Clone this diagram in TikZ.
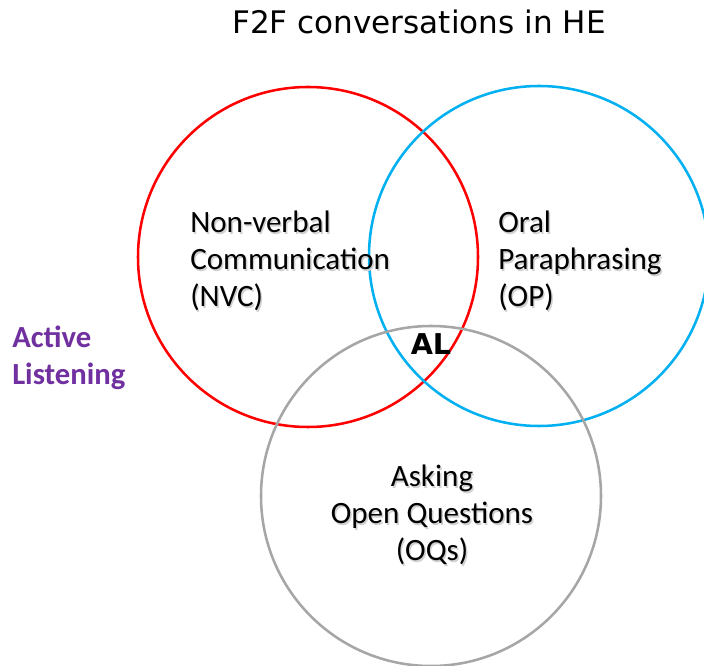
\documentclass[tikz,border=0pt]{standalone}
\usepackage{fontspec}
\setmainfont{Carlito}
\newfontfamily\titlefont{DejaVu Sans}
\definecolor{cred}{HTML}{FF0000}
\definecolor{cblue}{HTML}{00B0F0}
\definecolor{cgray}{HTML}{A6A6A6}
\definecolor{cpurple}{HTML}{7030A0}
\newcommand{\shtxt}[1]{\makebox[0pt][l]{\hspace{1.1pt}\raisebox{-1.1pt}{\textcolor{black!18}{#1}}}#1}
\tikzset{
  venn/.style={circle, line width=1.9pt, inner sep=0pt, minimum size=255pt},
  lbl/.style={font=\fontsize{23.3}{27.75}\selectfont, text=black, inner sep=0pt},
}
\begin{document}
\begin{tikzpicture}[x=0.75pt,y=-0.75pt]
\useasboundingbox (0,0) rectangle (704,666);
\clip (0,0) rectangle (704,666);
\fill[white] (0,0) rectangle (704,666);
\node[venn, draw=cred] (nvc) at (308,257) {};
\node[venn, draw=cblue] (op) at (539,256) {};
\node[venn, draw=cgray] (oq) at (431,496) {};
\node[font=\titlefont\fontsize{23.3}{28}\selectfont] (title) at (419,22) {F2F conversations in HE};
\node[lbl, align=left, anchor=west] (nvct) at (190,262) {\shtxt{Non-verbal}\\\shtxt{Communication}\\\shtxt{(NVC)}};
\node[lbl, align=left, anchor=west] (opt) at (498,262) {\shtxt{Oral}\\\shtxt{Paraphrasing}\\\shtxt{(OP)}};
\node[lbl, align=center] (oqt) at (432,516) {\shtxt{Asking}\\\shtxt{Open Questions}\\\shtxt{(OQs)}};
\node[lbl, align=left, anchor=west, text=cpurple, font=\bfseries\fontsize{23}{27.75}\selectfont] (al) at (12,358) {Active\\Listening};
\node[font=\titlefont\bfseries\fontsize{21.5}{24}\selectfont] (alc) at (431,344) {AL};
\end{tikzpicture}
\end{document}
